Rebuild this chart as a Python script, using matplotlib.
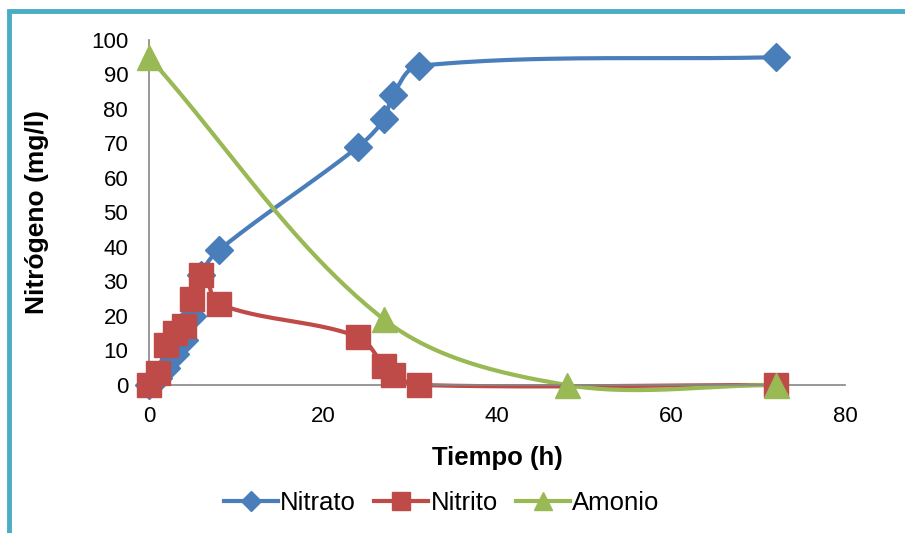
import numpy as np
import matplotlib.pyplot as plt
from matplotlib.patches import Rectangle

plt.rcParams['font.family'] = ['Liberation Sans', 'DejaVu Sans']

# Data
t_nitrato = [0, 1, 2, 3, 4, 5, 6, 8, 24, 27, 28, 31, 72]
nitrato = [0, 2, 5, 9, 13, 20, 32, 39, 69, 77, 84, 92.5, 95]

t_nitrito = [0, 1, 2, 3, 4, 5, 6, 8, 24, 27, 28, 31, 72]
nitrito = [0, 3.5, 11.5, 15, 17, 25, 32, 23.5, 14, 5.5, 3, 0, 0]

t_amonio = [0, 27, 48, 72]
amonio = [95, 19, 0, 0]


def smooth(x, y, n=50):
    # smoothed line like Excel, computed in screen space
    sx, sy = 8.7, 3.45
    p = np.column_stack([np.asarray(x, float) * sx, np.asarray(y, float) * sy])
    m = len(p)
    out = []
    for i in range(m - 1):
        p0, p1 = p[max(i - 1, 0)], p[i]
        p2, p3 = p[i + 1], p[min(i + 2, m - 1)]
        seg = np.linalg.norm(p2 - p1)
        d1 = p2 - p0
        d2 = p3 - p1
        d1 = d1 / (np.linalg.norm(d1) or 1)
        d2 = d2 / (np.linalg.norm(d2) or 1)
        c1 = p1 + d1 * seg / 3
        c2 = p2 - d2 * seg / 3
        t = np.linspace(0, 1, n)[:, None]
        b = (1 - t) ** 3 * p1 + 3 * (1 - t) ** 2 * t * c1 + 3 * (1 - t) * t ** 2 * c2 + t ** 3 * p2
        out.append(b)
    out = np.vstack(out)
    return out[:, 0] / sx, out[:, 1] / sy


fig = plt.figure(figsize=(9.05, 5.33), dpi=100)
ax = fig.add_axes([0.1646, 0.2777, 0.7694, 0.6473])

blue = '#4A7EBB'
red = '#BE4B48'
green = '#98B954'

for tx, vy, c, mk, ms, lab in [
    (t_nitrato, nitrato, blue, 'D', 14, 'Nitrato'),
    (t_nitrito, nitrito, red, 's', 17.5, 'Nitrito'),
    (t_amonio, amonio, green, '^', 18, 'Amonio'),
]:
    lx, ly = smooth(tx, vy)
    ax.plot(lx, ly, color=c, lw=3, solid_capstyle='round', zorder=2, clip_on=False)
    ax.plot(tx, vy, ls='none', marker=mk, ms=ms, color=c, mec=c, zorder=3, clip_on=False)
    ax.plot([], [], color=c, lw=3, marker=mk, ms=ms * 0.72, label=lab)

ax.set_xlim(0, 80)
ax.set_ylim(0, 100)
ax.set_xticks(range(0, 81, 20))
ax.set_yticks(range(0, 101, 10))
ax.tick_params(length=0, labelsize=16, pad=15)
for s in ['top', 'right']:
    ax.spines[s].set_visible(False)
for s in ['left', 'bottom']:
    ax.spines[s].set_color('#868686')
    ax.spines[s].set_linewidth(1.2)
ax.set_xlabel('Tiempo (h)', fontsize=18.5, fontweight='bold', labelpad=14)
ax.set_ylabel('Nitrógeno (mg/l)', fontsize=19, fontweight='bold', labelpad=30)

fig.legend(loc='center', bbox_to_anchor=(0.488, 0.056), ncol=3, frameon=False,
           fontsize=18.5, handlelength=2.1, handletextpad=0.1, columnspacing=0.7)

# teal chart frame
fig.patches.append(Rectangle((9 / 905, -0.1), 1.2, 1 - 11 / 533 + 0.1,
                             transform=fig.transFigure, fill=False,
                             ec='#4BACC6', lw=3.5))

fig.savefig('out.png', dpi=100)
